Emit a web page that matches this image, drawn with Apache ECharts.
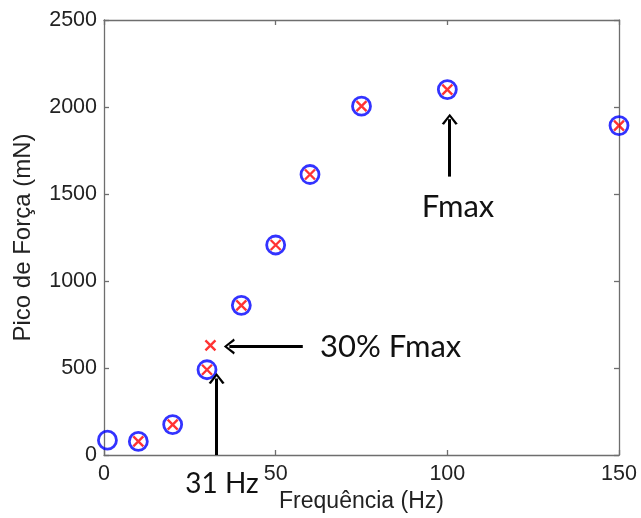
<!DOCTYPE html>
<html>
<head>
<meta charset="utf-8">
<script src="https://cdn.jsdelivr.net/npm/echarts@6/dist/echarts.min.js"></script>
<style>html,body{margin:0;padding:0;background:#fff;}#c{width:641px;height:518px;}</style>
</head>
<body>
<div id="c"></div>
<script>
// Data
const circleFreq  = [1, 10, 20, 30, 40, 50, 60, 75, 100, 150];
const circleForce = [85, 78, 175, 490, 860, 1207, 1612, 2005, 2100, 1893];
const crossFreq   = [10, 20, 30, 31, 40, 50, 60, 75, 100, 150];
const crossForce  = [78, 175, 490, 630, 860, 1207, 1612, 2005, 2100, 1893];
const xTickLabels = [0, 50, 100, 150];
const yTickLabels = [0, 500, 1000, 1500, 2000, 2500];
const xTitle = 'Frequência (Hz)';
const yTitle = 'Pico de Força (mN)';
const notes = ['30% Fmax', 'Fmax', '31 Hz'];

const circles = circleFreq.map((f, i) => [f, circleForce[i]]);
const crosses = crossFreq.map((f, i) => [f, crossForce[i]]);

const axisColor = '#6e6e6e';
const labelColor = '#222';
const tickFont = 'Liberation Sans, Arial, sans-serif';
const noteFont = 'Lato, Open Sans, sans-serif';
const chevron = 'path://M0,10 L5,0 L10,10 L8.6,11 L5,3.2 L1.4,11 Z';

const chart = echarts.init(document.getElementById('c'), null, {renderer: 'canvas'});
const baseAxis = {
  axisLine: {show: true, onZero: false, lineStyle: {color: axisColor, width: 1.3}},
  axisTick: {show: true, inside: true, length: 5, lineStyle: {color: axisColor, width: 1.3}},
  splitLine: {show: false}
};
chart.setOption({
  animation: false,
  grid: {left: 104, right: 22, top: 20, bottom: 63, containLabel: false},
  xAxis: [
    Object.assign({}, baseAxis, {
      type: 'value', min: xTickLabels[0], max: xTickLabels[xTickLabels.length - 1], interval: 50,
      position: 'bottom',
      axisLabel: {color: labelColor, fontFamily: tickFont, fontSize: 21.5, margin: 8,
        formatter: v => xTickLabels.includes(v) ? String(v) : ''},
      name: xTitle, nameLocation: 'middle', nameGap: 35,
      nameTextStyle: {color: labelColor, fontFamily: tickFont, fontSize: 23}
    }),
    Object.assign({}, baseAxis, {
      type: 'value', min: 0, max: 150, interval: 50, position: 'top',
      axisLabel: {show: false}
    })
  ],
  yAxis: [
    Object.assign({}, baseAxis, {
      type: 'value', min: yTickLabels[0], max: yTickLabels[yTickLabels.length - 1], interval: 500,
      position: 'left',
      axisLabel: {color: labelColor, fontFamily: tickFont, fontSize: 21.5, margin: 7,
        formatter: v => yTickLabels.includes(v) ? String(v) : ''},
      name: yTitle, nameLocation: 'middle', nameGap: 69,
      nameTextStyle: {color: labelColor, fontFamily: tickFont, fontSize: 24}
    }),
    Object.assign({}, baseAxis, {
      type: 'value', min: 0, max: 2500, interval: 500, position: 'right',
      axisLabel: {show: false}
    })
  ],
  series: [
    {
      type: 'scatter', data: circles, symbol: 'circle', symbolSize: 18, clip: false,
      itemStyle: {color: 'rgba(0,0,0,0)', borderColor: '#0000ff', borderWidth: 2.8}, z: 3
    },
    {
      type: 'scatter', data: crosses, symbol: 'path://M0,0L10,10M10,0L0,10', symbolSize: 10, clip: false,
      itemStyle: {color: 'rgba(0,0,0,0)', borderColor: '#ff0000', borderWidth: 2.4}, z: 4
    },
    {
      type: 'line', data: [], silent: true, z: 5,
      markLine: {
        silent: true, animation: false,
        symbol: ['none', chevron], symbolSize: [16, 11],
        label: {show: false},
        lineStyle: {color: '#000', width: 3, type: 'solid'},
        emphasis: {disabled: true},
        data: [
          [{coord: [32.8, 0]}, {coord: [32.8, 440]}],
          [{coord: [57.9, 623]}, {coord: [36.5, 623]}],
          [{coord: [100.7, 1600]}, {coord: [100.7, 1930]}]
        ]
      }
    }
  ],
  graphic: [
    {type: 'text', x: 320, y: 347, style: {text: notes[0], font: '31px ' + noteFont, fill: '#111', verticalAlign: 'middle'}},
    {type: 'text', x: 458, y: 207, style: {text: notes[1], font: '31px ' + noteFont, fill: '#111', align: 'center', verticalAlign: 'middle'}},
    {type: 'text', x: 222, y: 484, style: {text: notes[2], font: '28px ' + noteFont, fill: '#111', align: 'center', verticalAlign: 'middle'}}
  ]
});
</script>
</body>
</html>
